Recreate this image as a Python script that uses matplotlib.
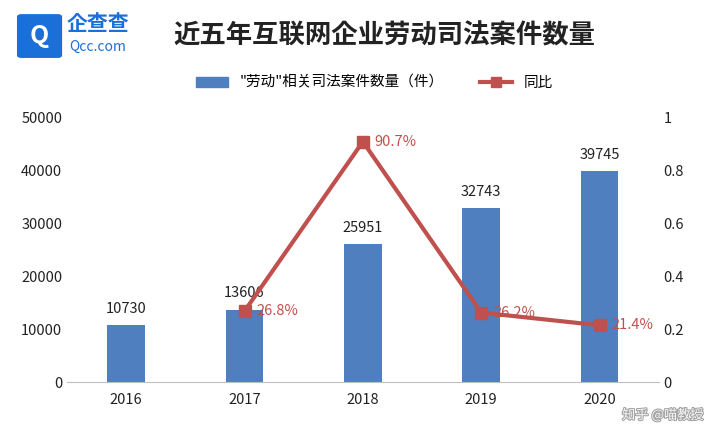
import matplotlib
matplotlib.use("Agg")
import matplotlib.pyplot as plt
import matplotlib.patheffects as pe
from matplotlib.patches import Patch, FancyBboxPatch
from matplotlib.lines import Line2D

plt.rcParams['font.family'] = ['Noto Sans CJK JP', 'Noto Sans CJK SC', 'DejaVu Sans']

years = ["2016", "2017", "2018", "2019", "2020"]
cases = [10730, 13606, 25951, 32743, 39745]
yoy_years = ["2017", "2018", "2019", "2020"]
yoy = [0.268, 0.907, 0.262, 0.214]
yoy_labels = ["26.8%", "90.7%", "26.2%", "21.4%"]

fig = plt.figure(figsize=(7.06, 4.24), dpi=100)
ax = fig.add_axes([0.095, 0.099, 0.838, 0.625])
x = list(range(len(years)))
ax.bar(x, cases, width=0.32, color='#4f7fbf', zorder=2)
for xi, v in zip(x, cases):
    ax.text(xi, v + 1800, str(v), ha='center', va='bottom', fontsize=10.5, color='#222222')
ax.set_ylim(0, 50000)
ax.set_yticks(range(0, 50001, 10000))
ax.set_xlim(-0.5, 4.5)
ax.set_xticks(x)
ax.set_xticklabels(years)
for s in ['top', 'left', 'right']:
    ax.spines[s].set_visible(False)
ax.spines['bottom'].set_color('#bfbfbf')
ax.tick_params(axis='both', length=0, labelsize=10.5, colors='#222222')
ax.tick_params(axis='x', pad=8)

ax2 = ax.twinx()
xl = [years.index(y) for y in yoy_years]
ax2.plot(xl, yoy, color='#c0504d', lw=3, marker='s', ms=8, zorder=3)
for xi, v, l in zip(xl, yoy, yoy_labels):
    ax2.text(xi + 0.1, v, l, ha='left', va='center', fontsize=10.5, color='#c0504d')
ax2.set_ylim(0, 1)
ax2.set_yticks([0, 0.2, 0.4, 0.6, 0.8, 1])
ax2.set_yticklabels(["0", "0.2", "0.4", "0.6", "0.8", "1"])
for s in ['top', 'left', 'right', 'bottom']:
    ax2.spines[s].set_visible(False)
ax2.tick_params(axis='y', length=0, labelsize=10.5, colors='#222222')

fig.text(0.545, 0.915, "近五年互联网企业劳动司法案件数量", ha='center', va='center', fontsize=19, fontweight='bold', color='#222222')
fig.text(0.095, 0.945, "企查查", ha='left', va='center', fontsize=15, fontweight='bold', color='#1a6fd8')
fig.text(0.098, 0.89, "Qcc.com", ha='left', va='center', fontsize=10, color='#1a6fd8')
fig.patches.append(FancyBboxPatch((0.03, 0.87), 0.052, 0.09, boxstyle="round,pad=0.005", transform=fig.transFigure, color='#1a6fd8'))
fig.text(0.056, 0.915, "Q", ha='center', va='center', fontsize=18, fontweight='bold', color='white')

handles = [Patch(color='#4f7fbf'), Line2D([0], [0], color='#c0504d', lw=3, marker='s', ms=7)]
fig.legend(handles, ['"劳动"相关司法案件数量（件）', '同比'], loc='center', bbox_to_anchor=(0.53, 0.805), ncol=2, frameon=False, fontsize=10.5, handlelength=2.2, columnspacing=2.5)

fig.text(0.997, 0.022, "知乎 @喵教授", ha='right', va='center', fontsize=9.5, color='#ffffff', alpha=0.9,
         path_effects=[pe.withStroke(linewidth=1.5, foreground='#999999')])
fig.savefig("out.png", dpi=100)
